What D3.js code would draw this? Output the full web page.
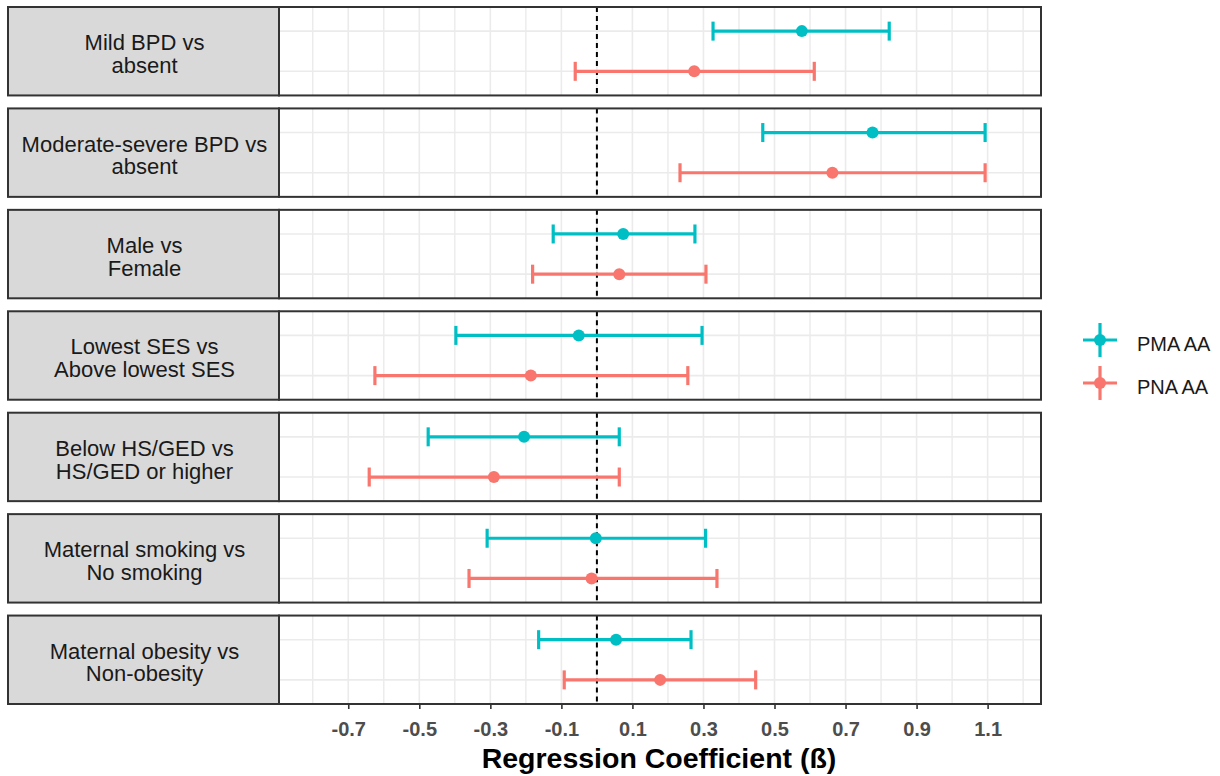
<!DOCTYPE html>
<html>
<head>
<meta charset="utf-8">
<script src="https://cdn.jsdelivr.net/npm/d3@7"></script>
<style>
  html, body { margin: 0; padding: 0; background: #ffffff; }
  svg { display: block; }
  text { font-family: "Liberation Sans", Arial, sans-serif; }
</style>
</head>
<body>
<svg id="chart" width="1220" height="776"></svg>
<script>
// ---- data ----
const categories = [
  "Mild BPD vs|absent",
  "Moderate-severe BPD vs|absent",
  "Male vs|Female",
  "Lowest SES vs|Above lowest SES",
  "Below HS/GED vs|HS/GED or higher",
  "Maternal smoking vs|No smoking",
  "Maternal obesity vs|Non-obesity"
];
const seriesNames = ["PMA AA", "PNA AA"];
const pmaEst = [0.577, 0.776, 0.074, -0.051, -0.205, -0.003, 0.054];
const pmaLow = [0.327, 0.467, -0.123, -0.397, -0.475, -0.309, -0.164];
const pmaHigh = [0.823, 1.093, 0.276, 0.296, 0.063, 0.306, 0.265];
const pnaEst = [0.274, 0.663, 0.063, -0.186, -0.290, -0.015, 0.178];
const pnaLow = [-0.061, 0.234, -0.181, -0.625, -0.641, -0.360, -0.092];
const pnaHigh = [0.612, 1.093, 0.307, 0.256, 0.063, 0.338, 0.447];
const xTicks = [-0.7, -0.5, -0.3, -0.1, 0.1, 0.3, 0.5, 0.7, 0.9, 1.1];
const xTickLabels = ["-0.7", "-0.5", "-0.3", "-0.1", "0.1", "0.3", "0.5", "0.7", "0.9", "1.1"];
const xMinor = [-0.8, -0.6, -0.4, -0.2, 0.0, 0.2, 0.4, 0.6, 0.8, 1.0, 1.2];
const xTitle = "Regression Coefficient (ß)";

const colors = {"PMA AA": "#00BFC4", "PNA AA": "#F8766D"};

// ---- build rows ----
const rows = [];
categories.forEach((c, i) => {
  rows.push({cat: c, series: "PMA AA", est: pmaEst[i], lo: pmaLow[i], hi: pmaHigh[i]});
  rows.push({cat: c, series: "PNA AA", est: pnaEst[i], lo: pnaLow[i], hi: pnaHigh[i]});
});

const svg = d3.select("#chart");
const plotL = 279, plotR = 1041, plotT = 7, plotB = 704;
const stripL = 8;

const x = d3.scaleLinear().domain([-0.895, 1.2503]).range([plotL, plotR]);
const facet = d3.scaleBand().domain(categories).range([plotT, plotB]).paddingInner(0.128).paddingOuter(0);
const bw = facet.bandwidth();
const yIn = d3.scalePoint().domain(seriesNames).range([0, bw]).padding(0.6);

categories.forEach(cat => {
  const top = facet(cat);
  const g = svg.append("g").attr("transform", `translate(0,${top})`);
  g.append("rect").attr("x", plotL).attr("y", 0).attr("width", plotR - plotL).attr("height", bw).attr("fill", "#ffffff");
  g.selectAll(".gmin").data(xMinor).enter().append("line")
    .attr("x1", d => x(d)).attr("x2", d => x(d)).attr("y1", 0).attr("y2", bw)
    .attr("stroke", "#EBEBEB").attr("stroke-width", 1.4);
  g.selectAll(".gmaj").data(xTicks).enter().append("line")
    .attr("x1", d => x(d)).attr("x2", d => x(d)).attr("y1", 0).attr("y2", bw)
    .attr("stroke", "#EBEBEB").attr("stroke-width", 1.6);
  g.selectAll(".gh").data(seriesNames).enter().append("line")
    .attr("x1", plotL).attr("x2", plotR).attr("y1", d => yIn(d)).attr("y2", d => yIn(d))
    .attr("stroke", "#EBEBEB").attr("stroke-width", 1.6);
  g.append("line").attr("x1", x(0)).attr("x2", x(0)).attr("y1", 0).attr("y2", bw)
    .attr("stroke", "#000").attr("stroke-width", 2).attr("stroke-dasharray", "5,4");
  const data = rows.filter(r => r.cat === cat);
  const eb = g.selectAll(".eb").data(data).enter().append("g");
  eb.append("line").attr("x1", d => x(d.lo)).attr("x2", d => x(d.hi))
    .attr("y1", d => yIn(d.series)).attr("y2", d => yIn(d.series))
    .attr("stroke", d => colors[d.series]).attr("stroke-width", 3.2);
  eb.append("line").attr("x1", d => x(d.lo)).attr("x2", d => x(d.lo))
    .attr("y1", d => yIn(d.series) - 9.5).attr("y2", d => yIn(d.series) + 9.5)
    .attr("stroke", d => colors[d.series]).attr("stroke-width", 3.2);
  eb.append("line").attr("x1", d => x(d.hi)).attr("x2", d => x(d.hi))
    .attr("y1", d => yIn(d.series) - 9.5).attr("y2", d => yIn(d.series) + 9.5)
    .attr("stroke", d => colors[d.series]).attr("stroke-width", 3.2);
  eb.append("circle").attr("cx", d => x(d.est)).attr("cy", d => yIn(d.series)).attr("r", 6)
    .attr("fill", d => colors[d.series]);
  g.append("rect").attr("x", plotL).attr("y", 0).attr("width", plotR - plotL).attr("height", bw)
    .attr("fill", "none").attr("stroke", "#333333").attr("stroke-width", 2);
  g.append("rect").attr("x", stripL).attr("y", 0).attr("width", plotL - stripL).attr("height", bw)
    .attr("fill", "#D9D9D9").attr("stroke", "#333333").attr("stroke-width", 2);
  const lines = cat.split("|");
  const cx = (stripL + plotL) / 2 + 1;
  lines.forEach((ln, k) => {
    g.append("text").attr("x", cx).attr("y", bw / 2 - 1 + k * 22.7)
      .attr("text-anchor", "middle").attr("font-size", 22).attr("fill", "#1A1A1A").text(ln);
  });
});

// x axis
const axisG = svg.append("g").attr("transform", `translate(0,${plotB})`)
  .call(d3.axisBottom(x).tickValues(xTicks).tickSize(5).tickPadding(10)
    .tickFormat((d, i) => xTickLabels[i]));
axisG.select(".domain").remove();
axisG.selectAll(".tick line").attr("stroke", "#333333").attr("stroke-width", 1.6);
axisG.selectAll(".tick text").attr("font-family", "Liberation Sans, Arial, sans-serif")
  .attr("font-size", 20).attr("font-weight", "bold").attr("fill", "#4D4D4D")
  .attr("dy", null).attr("y", 32);

svg.append("text").attr("x", (plotL + plotR) / 2 - 1).attr("y", 768).attr("text-anchor", "middle")
  .attr("font-size", 28.5).attr("font-weight", "bold").attr("fill", "#000").text(xTitle);

// legend
const legY = d3.scalePoint().domain(seriesNames).range([340, 383]);
const leg = svg.selectAll(".leg").data(seriesNames).enter().append("g")
  .attr("transform", d => `translate(1100,${legY(d)})`);
leg.append("line").attr("x1", -17).attr("x2", 17).attr("y1", 0).attr("y2", 0)
  .attr("stroke", d => colors[d]).attr("stroke-width", 3.2);
leg.append("line").attr("x1", 0).attr("x2", 0).attr("y1", -17).attr("y2", 17)
  .attr("stroke", d => colors[d]).attr("stroke-width", 3.2);
leg.append("circle").attr("r", 6).attr("fill", d => colors[d]);
leg.append("text").attr("x", 37).attr("y", 11).attr("font-size", 20).attr("fill", "#1A1A1A").text(d => d);
</script>
</body>
</html>
